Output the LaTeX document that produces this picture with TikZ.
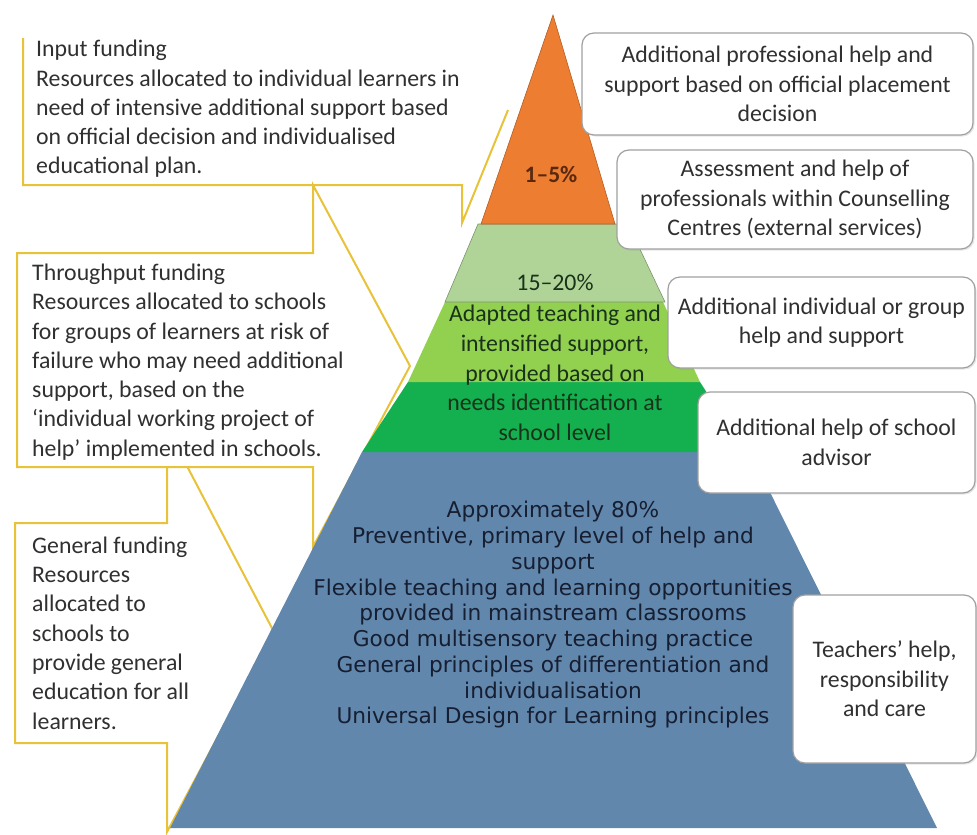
\documentclass[tikz,border=0pt]{standalone}
\usepackage{fontspec}
\setmainfont{Carlito}
\newfontfamily\verdanafont{DejaVu Sans}
\usetikzlibrary{shadows}

\definecolor{calloutyellow}{RGB}{232,194,56}
\definecolor{tiporange}{RGB}{237,125,49}
\definecolor{palegreen}{RGB}{176,212,152}
\definecolor{limegreen}{RGB}{146,208,80}
\definecolor{deepgreen}{RGB}{20,176,80}
\definecolor{baseblue}{RGB}{98,135,173}
\definecolor{boxgray}{RGB}{160,160,160}
\definecolor{textgray}{RGB}{48,48,48}
\definecolor{navytext}{RGB}{22,30,50}
\definecolor{browntext}{RGB}{90,40,15}
\definecolor{greentext}{RGB}{25,50,25}

\begin{document}
\begin{tikzpicture}[x=1pt,y=-1pt,
    callout/.style={draw=calloutyellow, line width=2pt, fill=white},
    infobox/.style={draw=boxgray, line width=1.2pt, fill=white, rounded corners=12pt,
      align=center, text=textgray, inner sep=0pt,
      font=\fontsize{23.8pt}{29.4pt}\selectfont,
      drop shadow={shadow xshift=1.5pt, shadow yshift=-1.5pt, opacity=0.2}},
    fundtext/.style={align=left, anchor=west, text=textgray, inner sep=0pt,
      font=\fontsize{23.8pt}{29.3pt}\selectfont},
    layertext/.style={align=center, inner sep=0pt, text=greentext,
      font=\fontsize{23.8pt}{29.75pt}\selectfont}]

  \useasboundingbox (0,0) rectangle (977,835);

  % funding callouts
  \draw[callout] (15,523) -- (167,523) -- (167,428) -- (274,632) -- (167,832) -- (167,743) -- (15,743) -- cycle;
  \draw[callout] (17,253) -- (313,253) -- (313,185) -- (410,366) -- (313,547) -- (313,467) -- (17,467) -- cycle;
  \draw[callout, fill=none] (23,38) -- (23,185) -- (462,185) -- (462,223) -- (508,110);

  % pyramid layers
  \fill[baseblue] (362,452) -- (750,452) -- (937,828) -- (170,828) -- cycle;
  \fill[deepgreen] (408,382) -- (700,382) -- (745,452) -- (362,452) -- cycle;
  \fill[limegreen] (445,302) -- (663,302) -- (700,382) -- (408,382) -- cycle;
  \filldraw[fill=palegreen, draw=palegreen!70!black, line width=0.6pt] (478,224) -- (628,224) -- (665,302) -- (445,302) -- cycle;
  \filldraw[fill=tiporange, draw=tiporange!75!black, line width=0.6pt] (553,15) -- (615,224) -- (481,224) -- cycle;

  \node[layertext, text=browntext, font=\fontsize{23.5pt}{26pt}\selectfont\bfseries] (tiplabel) at (551,174) {1--5\%};
  \node[layertext] (palelabel) at (555,282) {15--20\%};
  \node[layertext] (adaptlabel) at (555,373) {Adapted teaching and\\intensified support,\\provided based on\\needs identification at\\school level};
  \node[layertext, text=navytext, font=\verdanafont\fontsize{21.7pt}{25.75pt}\selectfont] (baselabel) at (553,615)
    {Approximately 80\%\\Preventive, primary level of help and\\support\\Flexible teaching and learning opportunities\\provided in mainstream classrooms\\Good multisensory teaching practice\\General principles of differentiation and\\individualisation\\Universal Design for Learning principles};

  % funding texts
  \node[fundtext] (inputtext) at (36,109) {Input funding\\Resources allocated to individual learners in\\need of intensive additional support based\\on official decision and individualised\\educational plan.};
  \node[fundtext] (throughtext) at (32,362) {Throughput funding\\Resources allocated to schools\\for groups of learners at risk of\\failure who may need additional\\support, based on the\\`individual working project of\\help' implemented in schools.};
  \node[fundtext] (generaltext) at (32,633) {General funding\\Resources\\allocated to\\schools to\\provide general\\education for all\\learners.};

  % help boxes
  \node[infobox, minimum width=391pt, minimum height=102pt] (placementbox) at (777.5,84) {Additional professional help and\\support based on official placement\\decision};
  \node[infobox, minimum width=356pt, minimum height=99pt] (centrebox) at (795,199.5) {Assessment and help of\\professionals within Counselling\\Centres (external services)};
  \node[infobox, minimum width=307pt, minimum height=91pt] (groupbox) at (821.5,322.5) {Additional individual or group\\help and support};
  \node[infobox, minimum width=277pt, minimum height=101pt] (advisorbox) at (836.5,442.5) {Additional help of school\\advisor};
  \node[infobox, minimum width=183pt, minimum height=168pt] (teacherbox) at (884.5,679) {Teachers' help,\\responsibility\\and care};
\end{tikzpicture}
\end{document}
